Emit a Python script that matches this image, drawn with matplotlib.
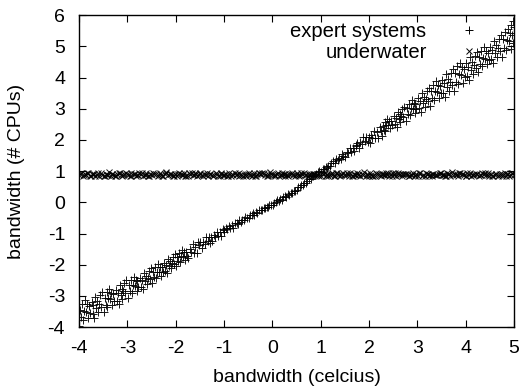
import matplotlib
matplotlib.use('Agg')
import matplotlib.pyplot as plt

plt.rcParams['font.family'] = ['Liberation Sans', 'DejaVu Sans']
plt.rcParams['axes.unicode_minus'] = False

# expert systems (left to right)
expert_x = [
    -3.99, -3.97, -3.95, -3.93, -3.91, -3.89, -3.87, -3.85, -3.83, -3.81, -3.79, -3.77,
    -3.74, -3.72, -3.7, -3.68, -3.66, -3.64, -3.62, -3.6, -3.58, -3.56, -3.54, -3.52,
    -3.49, -3.47, -3.45, -3.43, -3.41, -3.39, -3.37, -3.35, -3.33, -3.31, -3.29, -3.27,
    -3.24, -3.22, -3.2, -3.18, -3.16, -3.14, -3.12, -3.1, -3.08, -3.06, -3.04, -3.02,
    -2.99, -2.97, -2.95, -2.93, -2.91, -2.89, -2.87, -2.85, -2.83, -2.81, -2.79, -2.77,
    -2.74, -2.72, -2.7, -2.68, -2.66, -2.64, -2.62, -2.6, -2.58, -2.56, -2.54, -2.52,
    -2.49, -2.47, -2.45, -2.43, -2.41, -2.39, -2.37, -2.35, -2.33, -2.31, -2.29, -2.27,
    -2.24, -2.22, -2.2, -2.18, -2.16, -2.14, -2.12, -2.1, -2.08, -2.06, -2.04, -2.02,
    -1.99, -1.97, -1.95, -1.93, -1.91, -1.89, -1.87, -1.85, -1.83, -1.81, -1.79, -1.77,
    -1.74, -1.71, -1.68, -1.65, -1.62, -1.59, -1.56, -1.53, -1.51,
    -1.49, -1.46, -1.43, -1.4, -1.37, -1.34, -1.31, -1.28, -1.26,
    -1.24, -1.21, -1.18, -1.15, -1.12, -1.09, -1.06, -1.03, -1.01,
    -0.99, -0.96, -0.93, -0.9, -0.87, -0.84, -0.81, -0.78,
    -0.74, -0.71, -0.68, -0.65, -0.62, -0.59, -0.56, -0.53,
    -0.49, -0.46, -0.43, -0.4, -0.37, -0.34, -0.31, -0.28,
    -0.24, -0.21, -0.18, -0.15, -0.12, -0.09, -0.06, -0.03,
    0.01, 0.04, 0.07, 0.1, 0.13, 0.16, 0.19, 0.22,
    0.26, 0.29, 0.32, 0.35, 0.38, 0.41, 0.44, 0.47,
    0.51, 0.54, 0.57, 0.6, 0.63, 0.66, 0.69, 0.72,
    0.76, 0.79, 0.82, 0.85, 0.88, 0.91, 0.94, 0.97,
    1.01, 1.04, 1.07, 1.1, 1.13, 1.16, 1.19, 1.22,
    1.26, 1.29, 1.32, 1.35, 1.38, 1.41, 1.44, 1.47,
    1.51, 1.54, 1.57, 1.6, 1.63, 1.66, 1.69, 1.72, 1.74,
    1.76, 1.79, 1.82, 1.85, 1.88, 1.91, 1.94, 1.97, 1.99,
    2.01, 2.04, 2.07, 2.1, 2.13, 2.16, 2.19, 2.22, 2.24,
    2.26, 2.28, 2.3, 2.32, 2.34, 2.36, 2.38, 2.4, 2.42, 2.44, 2.46, 2.48,
    2.51, 2.53, 2.55, 2.57, 2.59, 2.61, 2.63, 2.65, 2.67, 2.69, 2.71, 2.73,
    2.76, 2.78, 2.8, 2.82, 2.84, 2.86, 2.88, 2.9, 2.92, 2.94, 2.96, 2.98,
    3.01, 3.03, 3.05, 3.07, 3.09, 3.11, 3.13, 3.15, 3.17, 3.19, 3.21, 3.23,
    3.26, 3.28, 3.3, 3.32, 3.34, 3.36, 3.38, 3.4, 3.42, 3.44, 3.46, 3.48,
    3.51, 3.53, 3.55, 3.57, 3.59, 3.61, 3.63, 3.65, 3.67, 3.69, 3.71, 3.73,
    3.76, 3.78, 3.8, 3.82, 3.84, 3.86, 3.88, 3.9, 3.92, 3.94, 3.96, 3.98,
    4.01, 4.03, 4.05, 4.07, 4.09, 4.11, 4.13, 4.15, 4.17, 4.19, 4.21, 4.23,
    4.26, 4.28, 4.3, 4.32, 4.34, 4.36, 4.38, 4.4, 4.42, 4.44, 4.46, 4.48,
    4.51, 4.53, 4.55, 4.57, 4.59, 4.61, 4.63, 4.65, 4.67, 4.69, 4.71, 4.73,
    4.76, 4.78, 4.8, 4.82, 4.84, 4.86, 4.88, 4.9, 4.92, 4.94, 4.96, 4.98,
    4.93, 4.97, 4.99,
]
expert_y = [
    -3.95, -3.45, -3.69, -3.26, -3.76, -3.48, -3.14, -3.51, -3.27, -3.71, -3.32, -3.56,
    -3.2, -3.58, -3.3, -3.7, -3.03, -3.39, -3.17, -3.53, -3.26, -2.98, -3.34, -2.87,
    -3.52, -3.06, -3.28, -2.88, -3.34, -3.08, -2.77, -3.11, -2.89, -3.29, -2.93, -3.15,
    -2.81, -3.15, -2.9, -3.25, -2.65, -2.97, -2.77, -3.09, -2.85, -2.6, -2.92, -2.5,
    -3.06, -2.65, -2.84, -2.49, -2.89, -2.66, -2.38, -2.68, -2.48, -2.83, -2.51, -2.7,
    -2.41, -2.7, -2.48, -2.78, -2.26, -2.53, -2.36, -2.63, -2.42, -2.2, -2.47, -2.1,
    -2.58, -2.22, -2.38, -2.08, -2.42, -2.22, -1.98, -2.23, -2.06, -2.36, -2.08, -2.24,
    -1.95, -2.2, -2.01, -2.26, -1.81, -2.04, -1.89, -2.12, -1.94, -1.75, -1.98, -1.66,
    -2.05, -1.75, -1.88, -1.62, -1.91, -1.73, -1.53, -1.74, -1.59, -1.84, -1.6, -1.73,
    -1.77, -1.49, -1.59, -1.35, -1.61, -1.43, -1.62, -1.27, -1.38,
    -1.28, -1.46, -1.27, -1.35, -1.1, -1.24, -1.12, -1.3, -1.12,
    -1.23, -1.05, -1.1, -0.94, -1.09, -0.96, -1.07, -0.84, -0.9,
    -0.95, -0.83, -0.86, -0.75, -0.83, -0.74, -0.81, -0.67,
    -0.65, -0.7, -0.58, -0.62, -0.56, -0.58, -0.47, -0.5,
    -0.5, -0.42, -0.42, -0.34, -0.39, -0.32, -0.35, -0.25,
    -0.24, -0.26, -0.18, -0.19, -0.14, -0.15, -0.07, -0.08,
    -0.07, -0.01, 0.0, 0.06, 0.04, 0.1, 0.09, 0.16,
    0.19, 0.18, 0.26, 0.25, 0.3, 0.3, 0.37, 0.37,
    0.4, 0.48, 0.49, 0.56, 0.56, 0.62, 0.62, 0.7,
    0.74, 0.75, 0.83, 0.84, 0.89, 0.9, 0.98, 0.99,
    0.96, 1.06, 1.06, 1.14, 1.11, 1.18, 1.15, 1.26,
    1.31, 1.25, 1.4, 1.35, 1.43, 1.4, 1.54, 1.5,
    1.46, 1.63, 1.59, 1.74, 1.61, 1.73, 1.64, 1.85, 1.8,
    1.9, 1.75, 1.92, 1.86, 2.08, 1.97, 2.08, 1.93, 2.09,
    1.9, 2.17, 2.07, 2.3, 2.07, 2.25, 2.07, 2.4, 2.3,
    2.14, 2.44, 2.31, 2.58, 2.29, 2.47, 2.67, 2.47, 2.62, 2.37, 2.61, 2.48,
    2.76, 2.5, 2.7, 2.43, 2.9, 2.66, 2.82, 2.58, 2.78, 2.98, 2.74, 3.07,
    2.62, 3.01, 2.83, 3.16, 2.79, 3.01, 3.27, 3.0, 3.19, 2.86, 3.16, 2.99,
    3.34, 3.01, 3.25, 2.91, 3.5, 3.19, 3.39, 3.07, 3.32, 3.57, 3.25, 3.67,
    3.09, 3.58, 3.35, 3.77, 3.29, 3.56, 3.89, 3.53, 3.77, 3.34, 3.72, 3.49,
    3.93, 3.51, 3.81, 3.37, 4.11, 3.71, 3.96, 3.56, 3.86, 4.16, 3.76, 4.28,
    3.58, 4.14, 3.87, 4.36, 3.79, 4.11, 4.48, 4.07, 4.34, 3.84, 4.28, 4.01,
    4.47, 4.05, 4.35, 3.91, 4.65, 4.25, 4.5, 4.1, 4.4, 4.7, 4.3, 4.82,
    4.17, 4.66, 4.43, 4.85, 4.37, 4.64, 4.97, 4.61, 4.85, 4.42, 4.8, 4.57,
    4.99, 4.6, 4.88, 4.47, 5.18, 4.8, 5.03, 4.65, 4.94, 5.23, 4.85, 5.35,
    4.67, 5.23, 4.96, 5.45, 4.88, 5.2, 5.57, 5.16, 5.43, 4.93, 5.37, 5.1,
    5.7, 5.8, 5.62,
]

# underwater: flat band just under 1
under_x = [
    -3.99, -3.95, -3.92, -3.88, -3.85, -3.81, -3.77, -3.74, -3.7, -3.66,
    -3.6, -3.58, -3.53, -3.49, -3.45, -3.42, -3.38, -3.34, -3.31, -3.27,
    -3.25, -3.21, -3.18, -3.14, -3.11, -3.07, -3.03, -2.98, -2.95, -2.92,
    -2.86, -2.82, -2.79, -2.75, -2.72, -2.68, -2.64, -2.61, -2.57, -2.53,
    -2.48, -2.46, -2.41, -2.37, -2.33, -2.3, -2.26, -2.22, -2.19, -2.15,
    -2.12, -2.08, -2.05, -2.01, -1.98, -1.94, -1.9, -1.85, -1.82, -1.79,
    -1.74, -1.7, -1.67, -1.63, -1.6, -1.56, -1.52, -1.49, -1.45, -1.41,
    -1.35, -1.33, -1.28, -1.24, -1.2, -1.17, -1.13, -1.09, -1.06, -1.02,
    -1.0, -0.96, -0.93, -0.89, -0.86, -0.82, -0.78, -0.73, -0.7, -0.67,
    -0.61, -0.57, -0.54, -0.5, -0.47, -0.43, -0.39, -0.36, -0.32, -0.28,
    -0.23, -0.21, -0.16, -0.12, -0.08, -0.05, -0.01, 0.03, 0.06, 0.1,
    0.13, 0.17, 0.2, 0.24, 0.27, 0.31, 0.35, 0.4, 0.43, 0.46,
    0.51, 0.55, 0.58, 0.62, 0.65, 0.69, 0.73, 0.76, 0.8, 0.84,
    0.9, 0.92, 0.97, 1.01, 1.05, 1.08, 1.12, 1.16, 1.19, 1.23,
    1.25, 1.29, 1.32, 1.36, 1.39, 1.43, 1.47, 1.52, 1.55, 1.58,
    1.64, 1.68, 1.71, 1.75, 1.78, 1.82, 1.86, 1.89, 1.93, 1.97,
    2.02, 2.04, 2.09, 2.13, 2.17, 2.2, 2.24, 2.28, 2.31, 2.35,
    2.38, 2.42, 2.45, 2.49, 2.52, 2.56, 2.6, 2.65, 2.68, 2.71,
    2.76, 2.8, 2.83, 2.87, 2.9, 2.94, 2.98, 3.01, 3.05, 3.09,
    3.15, 3.17, 3.22, 3.26, 3.3, 3.33, 3.37, 3.41, 3.44, 3.48,
    3.5, 3.54, 3.57, 3.61, 3.64, 3.68, 3.72, 3.77, 3.8, 3.83,
    3.89, 3.93, 3.96, 4.0, 4.03, 4.07, 4.11, 4.14, 4.18, 4.22,
    4.27, 4.29, 4.34, 4.38, 4.42, 4.45, 4.49, 4.53, 4.56, 4.6,
    4.63, 4.67, 4.7, 4.74, 4.77, 4.81, 4.85, 4.9, 4.93, 4.96,
    -3.97, -3.9, -3.83, -3.76, -3.68, -3.62, -3.55, -3.47, -3.4, -3.32,
    -3.23, -3.16, -3.09, -3.0, -2.93, -2.84, -2.77, -2.7, -2.62, -2.55,
    -2.44, -2.35, -2.28, -2.2, -2.1, -2.03, -1.96, -1.87, -1.8, -1.72,
    -1.65, -1.58, -1.5, -1.43, -1.37, -1.3, -1.22, -1.15, -1.07, -0.99,
    -0.91, -0.84, -0.76, -0.69, -0.63, -0.55, -0.48, -0.41, -0.34, -0.26,
    -0.18, -0.1, -0.03, 0.05, 0.11, 0.19, 0.26, 0.33, 0.38, 0.48,
    0.53, 0.6, 0.67, 0.75, 0.82, 0.87, 0.95, 1.03, 1.1, 1.14,
    1.21, 1.27, 1.34, 1.41, 1.49, 1.56, 1.61, 1.66, 1.73, 1.8,
    1.88, 1.95, 2.0, 2.07, 2.15, 2.22, 2.26, 2.33, 2.4, 2.47,
    2.54, 2.62, 2.69, 2.74, 2.82, 2.89, 2.96, 3.03, 3.11, 3.19,
    3.24, 3.31, 3.39, 3.46, 3.52, 3.59, 3.66, 3.74, 3.81, 3.86,
    3.94, 4.01, 4.09, 4.16, 4.24, 4.32, 4.4, 4.47, 4.55, 4.62,
    4.69, 4.76, 4.83, 4.88, 4.95, 4.99,
]
under_y = [
    0.88, 0.93, 0.85, 0.91, 0.87, 0.95, 0.84, 0.9, 0.92, 0.86,
    0.94, 0.86, 0.89, 0.84, 0.92, 0.88, 0.96, 0.85, 0.9, 0.87,
    0.85, 0.91, 0.95, 0.87, 0.84, 0.9, 0.93, 0.88, 0.86, 0.94,
    0.9, 0.84, 0.88, 0.94, 0.91, 0.86, 0.89, 0.95, 0.85, 0.92,
    0.87, 0.95, 0.9, 0.85, 0.93, 0.89, 0.84, 0.91, 0.96, 0.88,
    0.92, 0.88, 0.84, 0.9, 0.86, 0.94, 0.91, 0.87, 0.93, 0.85,
    0.86, 0.9, 0.93, 0.88, 0.95, 0.84, 0.87, 0.92, 0.89, 0.91,
    0.95, 0.85, 0.91, 0.87, 0.89, 0.93, 0.86, 0.84, 0.9, 0.88,
    0.89, 0.92, 0.86, 0.94, 0.85, 0.88, 0.95, 0.9, 0.84, 0.87,
    0.84, 0.87, 0.9, 0.92, 0.88, 0.85, 0.93, 0.86, 0.91, 0.95,
    0.91, 0.94, 0.88, 0.85, 0.9, 0.96, 0.87, 0.89, 0.84, 0.92,
    0.86, 0.89, 0.93, 0.91, 0.84, 0.87, 0.9, 0.94, 0.88, 0.85,
    0.93, 0.85, 0.87, 0.9, 0.95, 0.89, 0.84, 0.88, 0.92, 0.9,
    0.88, 0.91, 0.84, 0.86, 0.92, 0.94, 0.89, 0.85, 0.87, 0.93,
    0.9, 0.86, 0.95, 0.88, 0.85, 0.91, 0.93, 0.87, 0.94, 0.84,
    0.85, 0.92, 0.89, 0.93, 0.87, 0.84, 0.9, 0.96, 0.86, 0.89,
    0.94, 0.88, 0.86, 0.84, 0.91, 0.9, 0.85, 0.92, 0.88, 0.95,
    0.87, 0.84, 0.92, 0.95, 0.89, 0.86, 0.94, 0.9, 0.85, 0.91,
    0.92, 0.9, 0.85, 0.88, 0.94, 0.87, 0.91, 0.84, 0.93, 0.86,
    0.86, 0.95, 0.91, 0.89, 0.84, 0.92, 0.88, 0.87, 0.9, 0.94,
    0.89, 0.87, 0.84, 0.93, 0.9, 0.85, 0.96, 0.91, 0.88, 0.86,
    0.93, 0.91, 0.88, 0.86, 0.95, 0.89, 0.84, 0.87, 0.92, 0.9,
    0.85, 0.89, 0.94, 0.91, 0.87, 0.93, 0.86, 0.9, 0.84, 0.88,
    0.9, 0.86, 0.92, 0.84, 0.88, 0.95, 0.91, 0.85, 0.89, 0.93,
    0.9, 0.87, 0.93, 0.85, 0.91, 0.88, 0.94, 0.86, 0.89, 0.92,
    0.86, 0.93, 0.89, 0.91, 0.84, 0.9, 0.87, 0.95, 0.88, 0.85,
    0.92, 0.88, 0.85, 0.94, 0.9, 0.86, 0.91, 0.89, 0.84, 0.93,
    0.88, 0.91, 0.95, 0.86, 0.89, 0.92, 0.85, 0.9, 0.93, 0.87,
    0.85, 0.9, 0.87, 0.93, 0.88, 0.84, 0.94, 0.89, 0.86, 0.91,
    0.93, 0.86, 0.91, 0.88, 0.95, 0.87, 0.9, 0.85, 0.92, 0.89,
    0.87, 0.94, 0.88, 0.9, 0.86, 0.92, 0.89, 0.95, 0.84, 0.91,
    0.91, 0.85, 0.93, 0.89, 0.87, 0.9, 0.94, 0.86, 0.88, 0.92,
    0.89, 0.92, 0.86, 0.84, 0.93, 0.88, 0.91, 0.87, 0.95, 0.85,
    0.94, 0.88, 0.9, 0.92, 0.86, 0.89, 0.85, 0.93, 0.87, 0.91,
    0.86, 0.91, 0.87, 0.95, 0.89, 0.84, 0.92, 0.88, 0.9, 0.93,
    0.9, 0.85, 0.93, 0.88, 0.91, 0.87, 0.94, 0.89, 0.86, 0.92,
    0.88, 0.92, 0.86, 0.9, 0.94, 0.87,
]

xticks = [-4, -3, -2, -1, 0, 1, 2, 3, 4, 5]
yticks = [-4, -3, -2, -1, 0, 1, 2, 3, 4, 5, 6]

fig = plt.figure(figsize=(5.3, 3.89), dpi=100)
# plot frame: x 79..514 px, y 15..327 px
ax = fig.add_axes([0.149, 0.159, 0.821, 0.802])

ax.plot(expert_x, expert_y, '+', color='black', ms=5.5, mew=0.7, alpha=0.9, label='expert systems')
ax.plot(under_x, under_y, 'x', color='black', ms=4, mew=0.7, alpha=0.9, label='underwater')

ax.set_xlim(-4, 5)
ax.set_ylim(-4, 6)
ax.set_xticks(xticks)
ax.set_yticks(yticks)
ax.tick_params(direction='in', length=5, width=0.8, top=True, right=True, labelsize=14)
ax.tick_params(axis='x', pad=9)
ax.tick_params(axis='y', pad=10)
for s in ax.spines.values():
    s.set_linewidth(1.0)

ax.set_xlabel('bandwidth (celcius)', fontsize=14)
ax.set_ylabel('bandwidth (# CPUs)', fontsize=14)
ax.xaxis.set_label_coords(0.5, -0.135)
ax.yaxis.set_label_coords(-0.124, 0.5)

leg = ax.legend(loc='upper right', bbox_to_anchor=(0.92, 0.977), frameon=False,
                markerfirst=False, fontsize=14.6, handletextpad=1.6, labelspacing=0.1,
                handlelength=1.0, borderpad=0, borderaxespad=0)
for t in leg.get_texts():
    t.set_ha('right')
for h in leg.legend_handles:
    h.set_alpha(1.0)

fig.savefig('out.png', dpi=100)
